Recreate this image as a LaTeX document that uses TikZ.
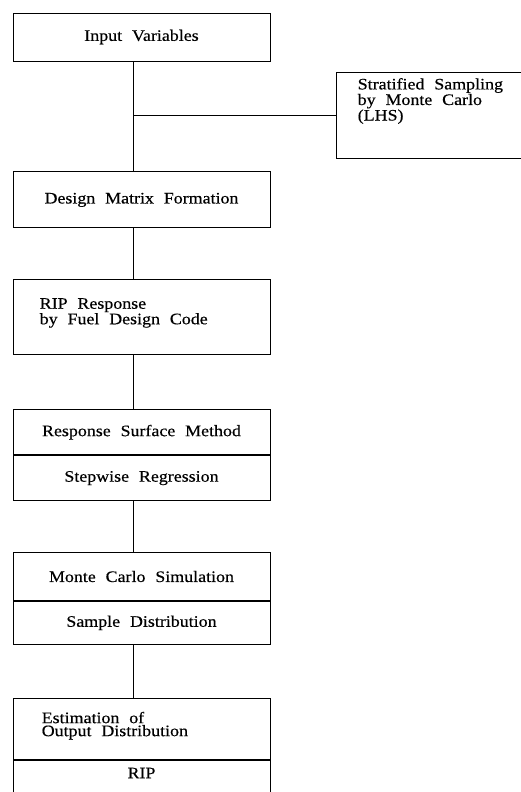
\documentclass[tikz,border=0pt]{standalone}
\usepackage{fontspec}
\setmainfont{Liberation Serif}[FakeStretch=1.12, WordSpace=2.2, FakeBold=0.4]
\usetikzlibrary{positioning}

\begin{document}
\begin{tikzpicture}
[x=1pt, y=-1pt, node distance=51pt,
 box/.style={draw, line width=0.9pt, minimum width=257pt, inner sep=0pt,
   font=\fontsize{16}{13}\selectfont},
 txt/.style={align=left, inner sep=0pt, font=\fontsize{16}{13}\selectfont},
 link/.style={line width=0.9pt}]
\clip (0,0) rectangle (521,792);
\coordinate (spine) at (133,0);
\node[box, minimum height=48pt] (input) at (141.5,37) {Input Variables};
\node[box, minimum width=204pt, minimum height=86pt] (lhs) at (438,115) {};
\node[txt, below right=6.4pt and 22pt of lhs.north west] (lhstxt)
  {Stratified Sampling\\by Monte Carlo\\(LHS)};
\node[box, minimum height=56pt, below=110pt of input] (design) {Design Matrix Formation};
\node[box, minimum height=75pt, below=of design] (rip) {};
\node[txt, below right=18.7pt and 27pt of rip.north west] (riptxt)
  {RIP Response\\by Fuel Design Code};
\node[box, minimum height=45pt, below=54pt of rip] (rsm) {Response Surface Method};
\node[box, minimum height=45pt, below=0pt of rsm] (step) {Stepwise Regression};
\node[box, minimum height=48pt, below=of step] (mc) {Monte Carlo Simulation};
\node[box, minimum height=43pt, below=0pt of mc] (smp) {Sample Distribution};
\node[box, minimum height=61pt, below=53pt of smp] (est) {};
\node[txt, below right=13.8pt and 29pt of est.north west] (esttxt)
  {Estimation of\\Output Distribution};
\node[box, minimum height=57pt, below=0pt of est] (res) {};
\node[font=\fontsize{16}{13}\selectfont, inner sep=0pt] (restxt) at (res.center |- 0,773) {RIP};
% connectors on the spine
\draw[link] (input.south -| spine) -- (design.north -| spine);
\draw[link] (lhs.west) -- (lhs.west -| spine);
\draw[link] (design.south -| spine) -- (rip.north -| spine);
\draw[link] (rip.south -| spine) -- (rsm.north -| spine);
\draw[link] (step.south -| spine) -- (mc.north -| spine);
\draw[link] (smp.south -| spine) -- (est.north -| spine);
\end{tikzpicture}
\end{document}
